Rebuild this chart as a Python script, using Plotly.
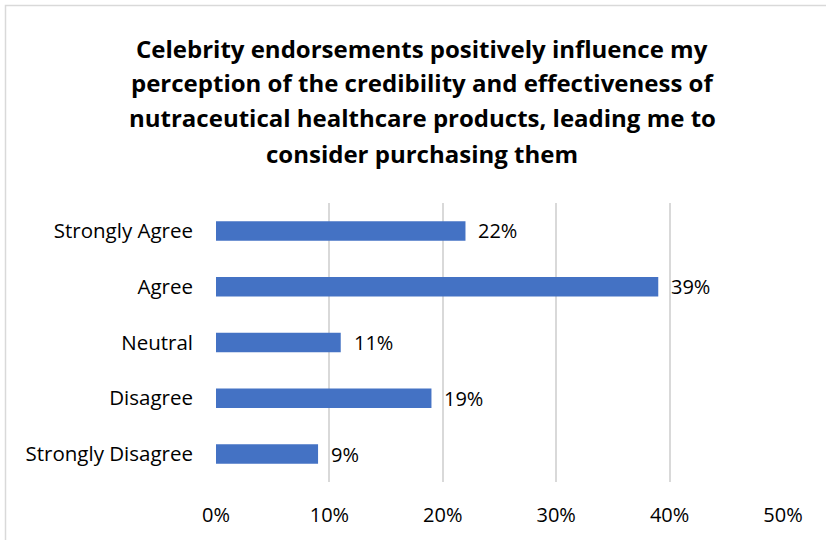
import plotly.graph_objects as go

categories = ["Strongly Agree", "Agree", "Neutral", "Disagree", "Strongly Disagree"]
values = [0.22, 0.39, 0.11, 0.19, 0.09]
labels = ["22%", "39%", "11%", "19%", "9%"]
title_lines = [
    "Celebrity endorsements positively influence my",
    "perception of the credibility and effectiveness of",
    "nutraceutical healthcare products, leading me to",
    "consider purchasing them",
]
tick_vals = [0, 0.1, 0.2, 0.3, 0.4, 0.5]
tick_text = ["0%", "10%", "20%", "30%", "40%", "50%"]

FONT = "'Open Sans', Carlito, Calibri, sans-serif"
W, H = 826, 540
L, R, T, B = 216, 43, 203, 58
pw, ph = W - L - R, H - T - B

fig = go.Figure(go.Bar(
    x=values, y=categories, orientation="h",
    marker=dict(color="#4472C4", line=dict(width=0)),
    width=0.35, hoverinfo="skip",
))

for v, c, t in zip(values, categories, labels):
    fig.add_annotation(x=v, y=c, text=t, showarrow=False, xanchor="left",
                       xshift=11, font=dict(family=FONT, size=20, color="#000000"))

title_y_px = [48, 83, 118, 153]
for line, ypx in zip(title_lines, title_y_px):
    fig.add_annotation(xref="paper", yref="paper", x=(422 - L) / pw,
                       y=(H - B - ypx) / ph, text="<b>" + line + "</b>",
                       showarrow=False, xanchor="center", yanchor="middle",
                       font=dict(family=FONT, size=24, color="#000000"))

fig.add_shape(type="rect", xref="paper", yref="paper",
              x0=(5.5 - L) / pw, x1=(W + 10 - L) / pw,
              y0=(H - B - (H + 10)) / ph, y1=(H - B - 5.5) / ph,
              line=dict(color="#D9D9D9", width=1.5), fillcolor="rgba(0,0,0,0)", layer="below")

fig.update_layout(
    width=W, height=H,
    margin=dict(l=L, r=R, t=T, b=B, pad=0),
    paper_bgcolor="white", plot_bgcolor="white",
    showlegend=False,
    font=dict(family=FONT, size=20, color="#000000"),
    xaxis=dict(range=[0, 0.5], tickvals=tick_vals, ticktext=tick_text,
               showgrid=True, gridcolor="#D9D9D9", gridwidth=1.5,
               zeroline=False, showline=False, ticks="", ticklen=0,
               ticklabelstandoff=19,
               tickfont=dict(size=20, color="#000000")),
    yaxis=dict(categoryorder="array", categoryarray=categories, autorange="reversed",
               showgrid=False, zeroline=False, showline=False, ticks="",
               ticklabelstandoff=22,
               tickfont=dict(size=20.5, color="#000000")),
)

fig.write_html("out.html")
